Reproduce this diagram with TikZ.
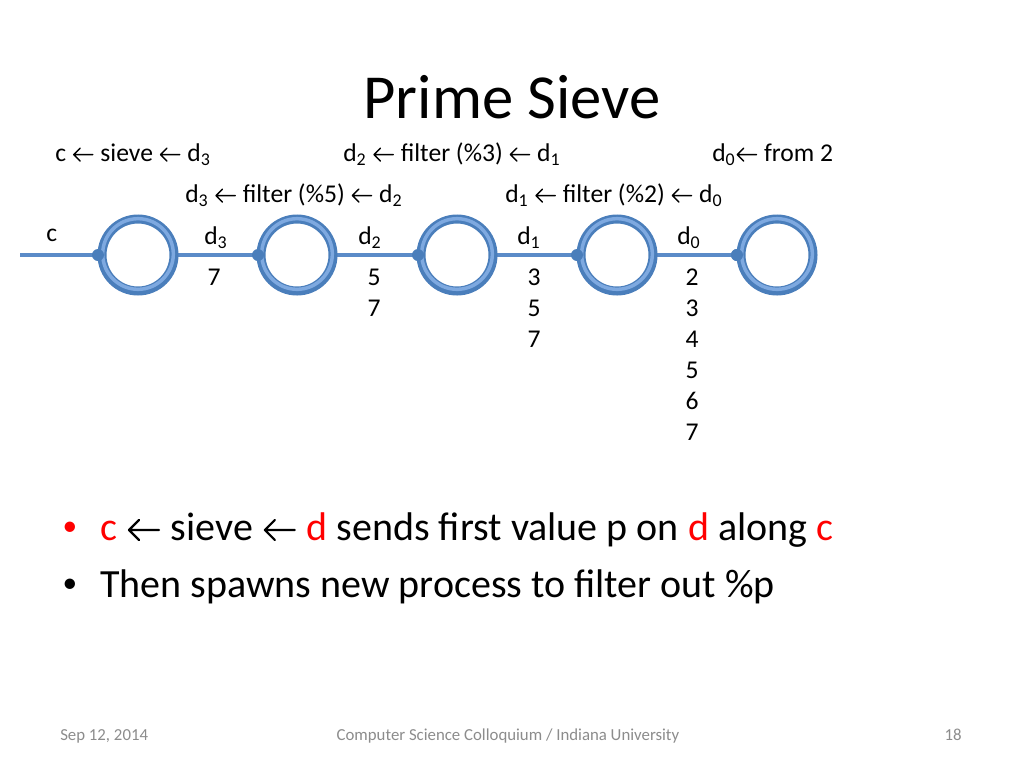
\documentclass[tikz,border=0pt]{standalone}
\usepackage{fontspec}
\setmainfont{Carlito}
\definecolor{ringdark}{HTML}{4A7EBB}
\definecolor{ringlight}{HTML}{7EA9E0}
\definecolor{linecol}{HTML}{5B8BC8}
\definecolor{footgray}{HTML}{8C8C8C}
\definecolor{hired}{HTML}{FF0000}
\newcommand{\la}{\tikz[x=1em,y=1em,baseline=0pt]{\useasboundingbox (0,0) rectangle (0.89,0.5);\draw[black,line width=0.055em,line cap=round,line join=round] (0.07,0.25)--(0.82,0.25) (0.32,0.5)--(0.07,0.25)--(0.32,0);}}
\newcommand{\sub}[1]{\textsubscript{#1}}
\tikzset{
  px/.style={x=0.75pt,y=-0.75pt},
  ring/.style={circle,draw=ringdark,line width=6.75pt,minimum size=54pt,inner sep=0pt,fill=white},
  ringin/.style={circle,draw=ringlight,line width=2.6pt,minimum size=53pt,inner sep=0pt},
  port/.style={circle,fill=ringdark,minimum size=9pt,inner sep=0pt},
  lbl/.style={anchor=base west,inner sep=0pt,font=\fontsize{19.2}{22}\selectfont},
  num/.style={anchor=base,inner sep=0pt,font=\fontsize{19.2}{22}\selectfont},
  bul/.style={anchor=base west,inner sep=0pt,font=\fontsize{30}{36}\selectfont},
  foot/.style={anchor=base,inner sep=0pt,text=footgray,font=\fontsize{12.6}{15}\selectfont},
}
\begin{document}
\begin{tikzpicture}[px]
\useasboundingbox (0,0) rectangle (1024,768);
\fill[white] (0,0) rectangle (1024,768);
% title
\node[anchor=base,inner sep=0pt,font=\fontsize{47}{56}\selectfont] (title) at (512,118) {Prime Sieve};
% top labels
\node[lbl] (l1) at (55,161) {c \la{} sieve \la{} d\sub{3}};
\node[lbl] (l2) at (343,161) {d\sub{2} \la{} filter (\%3) \la{} d\sub{1}};
\node[lbl] (l3) at (712,161) {d\sub{0}\la{} from 2};
\node[lbl] (l4) at (185,202) {d\sub{3} \la{} filter (\%5) \la{} d\sub{2}};
\node[lbl] (l5) at (505,202) {d\sub{1} \la{} filter (\%2) \la{} d\sub{0}};
% chain
\coordinate (cstart) at (20,255);
\node[port] (q5) at (737,255) {};
\draw[linecol,line width=2.3pt] (cstart) -- (q5.center);
\foreach \i/\x in {1/138,2/297,3/457,4/617,5/777}{
  \node[ring] (r\i) at (\x,255) {};
  \node[ringin] (ri\i) at (\x,254) {};
}
\foreach \i/\x in {1/98,2/258,3/418,4/577,5/737}{
  \node[port] (p\i) at (\x,255) {};
}
% channel labels
\node[lbl] (cl) at (46,241) {c};
\node[lbl] (dl3) at (204,244) {d\sub{3}};
\node[lbl] (dl2) at (358,244) {d\sub{2}};
\node[lbl] (dl1) at (517,244) {d\sub{1}};
\node[lbl] (dl0) at (677,244) {d\sub{0}};
% numbers
\node[num] (n31) at (214,285) {7};
\node[num] (n21) at (374,285) {5};
\node[num] (n22) at (374,316) {7};
\node[num] (n11) at (534,285) {3};
\node[num] (n12) at (534,316) {5};
\node[num] (n13) at (534,347) {7};
\node[num] (n01) at (692,285) {2};
\node[num] (n02) at (692,316) {3};
\node[num] (n03) at (692,347) {4};
\node[num] (n04) at (692,378) {5};
\node[num] (n05) at (692,409) {6};
\node[num] (n06) at (692,440) {7};
% bullets
\node[bul,text=hired,font=\fontsize{22}{26}\selectfont,anchor=center] (b1dot) at (70,529) {•};
\node[bul] (b1) at (100,540) {\textcolor{hired}{c} \la{} sieve \la{} \textcolor{hired}{d} sends first value p on \textcolor{hired}{d} along \textcolor{hired}{c}};
\node[bul,font=\fontsize{22}{26}\selectfont,anchor=center] (b2dot) at (70,586) {•};
\node[bul] (b2) at (100,597) {Then spawns new process to filter out \%p};
% footer
\node[foot,anchor=base west] (f1) at (60,740) {Sep 12, 2014};
\node[foot] (f2) at (508,740) {Computer Science Colloquium / Indiana University};
\node[foot,anchor=base east] (f3) at (962,740) {18};
\end{tikzpicture}
\end{document}
